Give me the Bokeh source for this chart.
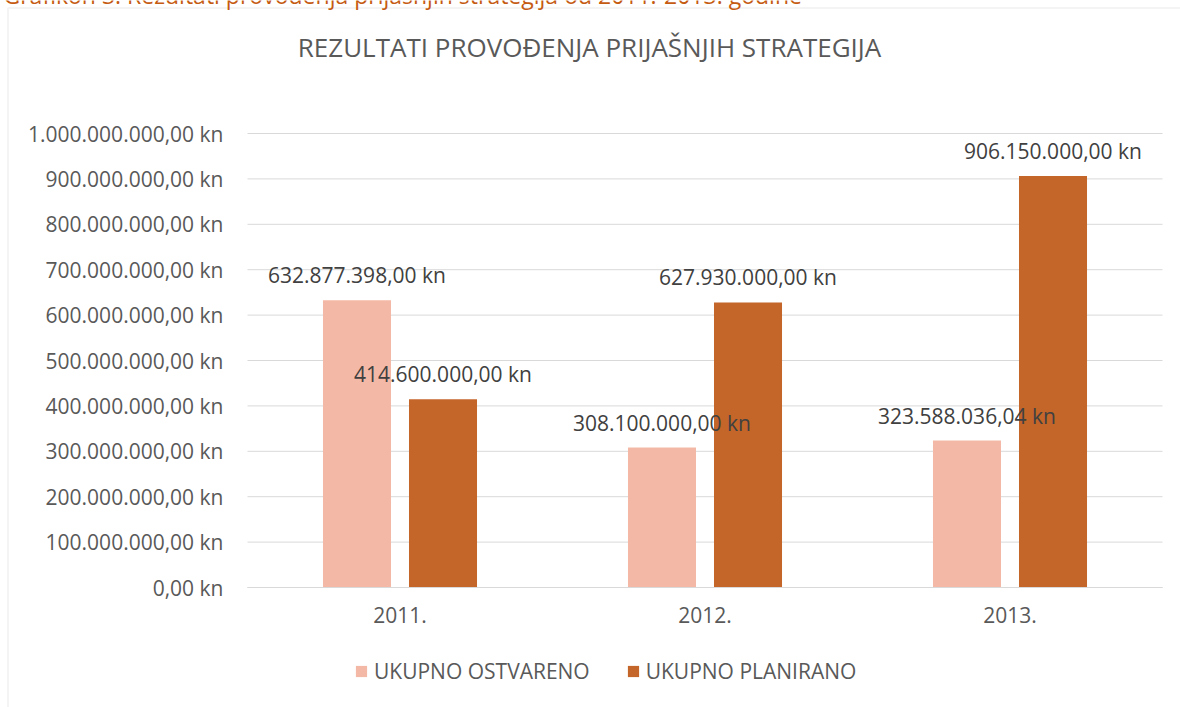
from bokeh.plotting import figure
from bokeh.models import (Range1d, FixedTicker, Label, BoxAnnotation,
                          Legend, LegendItem, ColumnDataSource)
from bokeh.embed import file_html
from bokeh.resources import INLINE

# ---- data ----
years = ["2011.", "2012.", "2013."]
ostvareno = [632877398.00, 308100000.00, 323588036.04]
planirano = [414600000.00, 627930000.00, 906150000.00]
series_names = ["UKUPNO OSTVARENO", "UKUPNO PLANIRANO"]
y_ticks = [0, 100000000, 200000000, 300000000, 400000000, 500000000,
           600000000, 700000000, 800000000, 900000000, 1000000000]
title_text = "REZULTATI PROVOĐENJA PRIJAŠNJIH STRATEGIJA"
caption_text = "Grafikon 3. Rezultati provođenja prijašnjih strategija od 2011.-2013. godine"


def kn(v):
    s = f"{v:,.2f}"
    s = s.replace(",", "X").replace(".", ",").replace("X", ".")
    return s + " kn"


# ---- layout (pixels) ----
W, H = 1180, 707
PLOT_L, PLOT_R, PLOT_T, PLOT_B = 247, 1162, 133, 587
Y_MAX = y_ticks[-1]
ppx = (PLOT_R - PLOT_L) / len(years)      # pixels per category
ppy = (PLOT_B - PLOT_T) / Y_MAX           # pixels per kuna


def px2x(px):
    return (px - PLOT_L) / ppx


def py2y(py):
    return (PLOT_B - py) / ppy


FONT = "Open Sans"
PINK = "#F4B9A6"
ORANGE = "#C4652A"
GRID = "#D9D9D9"
TXT = "#595959"

off = 0.141
bw = 0.223
centers = [i + 0.5 for i in range(len(years))]

src = ColumnDataSource(dict(
    xo=[c - off for c in centers],
    xp=[c + off for c in centers],
    ost=ostvareno,
    plan=planirano,
    ost_lbl=[kn(v) for v in ostvareno],
    plan_lbl=[kn(v) for v in planirano],
))

# the frame covers the whole canvas; axes are pinned inside it
p = figure(width=W, height=H,
           x_range=Range1d(px2x(0), px2x(W)),
           y_range=Range1d(py2y(H), py2y(0)),
           output_backend="svg", toolbar_location=None, min_border=0)
p.title.text = ""
p.title.visible = False
p.outline_line_color = None
p.background_fill_color = "white"
p.border_fill_color = "white"
p.xgrid.visible = False
p.ygrid.visible = False

# horizontal gridlines
p.segment(x0=0, x1=len(years), y0=y_ticks, y1=y_ticks, line_color=GRID, line_width=1)

r1 = p.vbar(x="xo", top="ost", width=bw, source=src, fill_color=PINK, line_color=None)
r2 = p.vbar(x="xp", top="plan", width=bw, source=src, fill_color=ORANGE, line_color=None)

for xcol, col in (("xo", "ost"), ("xp", "plan")):
    p.text(x=xcol, y=col, text=col + "_lbl", source=src,
           text_align="center", text_baseline="middle", y_offset=-25,
           text_font_size="21px", text_color="#404040", text_font={"value": FONT})

# y axis pinned at the left edge of the categories
p.yaxis.fixed_location = 0
p.yaxis.ticker = FixedTicker(ticks=y_ticks)
p.yaxis.major_label_overrides = {t: kn(t) for t in y_ticks}
p.yaxis.axis_line_color = None
p.yaxis.major_tick_line_color = None
p.yaxis.minor_tick_line_color = None
p.yaxis.major_tick_out = 0
p.yaxis.major_tick_in = 0
p.yaxis.major_label_standoff = 24
p.yaxis.major_label_text_font = FONT
p.yaxis.major_label_text_font_size = "21px"
p.yaxis.major_label_text_color = TXT

# x axis pinned at zero
p.xaxis.fixed_location = 0
p.xaxis.bounds = (0, len(years))
p.xaxis.ticker = FixedTicker(ticks=centers)
p.xaxis.major_label_overrides = {c: y for c, y in zip(centers, years)}
p.xaxis.axis_line_color = GRID
p.xaxis.axis_line_width = 1
p.xaxis.major_tick_line_color = None
p.xaxis.minor_tick_line_color = None
p.xaxis.major_tick_out = 0
p.xaxis.major_tick_in = 0
p.xaxis.major_label_standoff = 19
p.xaxis.major_label_text_font = FONT
p.xaxis.major_label_text_font_size = "21px"
p.xaxis.major_label_text_color = TXT

# outer chart border (cut off at the right and bottom)
p.add_layout(BoxAnnotation(left=px2x(7.5), right=px2x(W + 50),
                           top=py2y(7.5), bottom=py2y(H + 50),
                           fill_alpha=0, line_color=GRID, line_width=2))

# chart title
p.add_layout(Label(x=px2x(589), y=py2y(46), text=title_text,
                   text_align="center", text_baseline="middle",
                   text_font=FONT, text_font_size="26px", text_color=TXT))

# document caption, mostly cut off by the top edge
p.add_layout(Label(x=px2x(3), y=py2y(-6), text=caption_text,
                   text_align="left", text_baseline="alphabetic",
                   text_font=FONT, text_font_size="23px", text_color="#C55A11"))

legend = Legend(items=[LegendItem(label=series_names[0], renderers=[r1]),
                       LegendItem(label=series_names[1], renderers=[r2])],
                orientation="horizontal", location=(354, 22),
                glyph_width=14, glyph_height=14, label_standoff=6, spacing=36,
                padding=0, margin=0, border_line_color=None,
                background_fill_alpha=0,
                label_text_font=FONT, label_text_font_size="21px",
                label_text_color=TXT)
p.add_layout(legend)

open("out.html", "w").write(file_html(p, INLINE))
